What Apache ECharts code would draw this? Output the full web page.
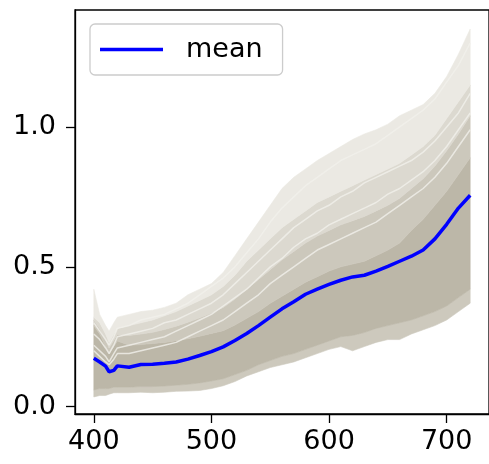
<!DOCTYPE html>
<html>
<head>
<meta charset="utf-8">
<script src="https://cdn.jsdelivr.net/npm/echarts@6/dist/echarts.min.js"></script>
<style>html,body{margin:0;padding:0;background:#fff}#c{width:489px;height:464px}</style>
</head>
<body>
<div id="c"></div>
<script>
// wavelengths (nm)
const wl = [400,405,410,413,417,420,430,440,450,460,470,480,490,500,510,520,530,540,550,560,570,580,590,600,610,620,630,640,650,660,670,680,690,700,710,720];
// mean spectrum
const meanVals = [0.173,0.160,0.145,0.125,0.130,0.146,0.141,0.151,0.152,0.155,0.160,0.170,0.183,0.197,0.214,0.237,0.262,0.290,0.320,0.350,0.375,0.402,0.420,0.437,0.452,0.464,0.470,0.485,0.502,0.520,0.538,0.560,0.600,0.652,0.710,0.756];
// envelope of all spectra (min / max) and density levels
const minVals = [0.035,0.040,0.040,0.045,0.050,0.050,0.050,0.052,0.050,0.052,0.055,0.056,0.058,0.065,0.075,0.090,0.110,0.125,0.140,0.150,0.160,0.175,0.190,0.205,0.215,0.200,0.215,0.230,0.240,0.240,0.260,0.275,0.290,0.310,0.340,0.370];
const lowCore = [0.060,0.065,0.065,0.065,0.070,0.070,0.070,0.072,0.072,0.074,0.077,0.080,0.085,0.092,0.100,0.115,0.130,0.150,0.165,0.180,0.190,0.205,0.220,0.235,0.250,0.255,0.265,0.280,0.290,0.300,0.310,0.325,0.340,0.360,0.390,0.420];
const highCore = [0.290,0.260,0.215,0.190,0.215,0.235,0.220,0.222,0.226,0.230,0.236,0.243,0.252,0.262,0.272,0.292,0.316,0.340,0.370,0.395,0.420,0.445,0.465,0.485,0.500,0.510,0.520,0.540,0.560,0.585,0.630,0.670,0.720,0.770,0.830,0.890];
const upperCore = [0.310,0.280,0.240,0.210,0.238,0.258,0.255,0.260,0.266,0.276,0.288,0.302,0.318,0.335,0.355,0.385,0.420,0.455,0.490,0.525,0.555,0.585,0.610,0.630,0.650,0.665,0.680,0.700,0.720,0.745,0.780,0.815,0.860,0.915,0.975,1.040];
const midUpper = [0.320,0.300,0.260,0.230,0.260,0.280,0.290,0.300,0.310,0.325,0.340,0.360,0.380,0.400,0.430,0.470,0.520,0.560,0.600,0.640,0.670,0.700,0.730,0.750,0.770,0.790,0.810,0.830,0.850,0.870,0.900,0.930,0.970,1.030,1.090,1.150];
const maxVals = [0.420,0.330,0.290,0.270,0.300,0.320,0.330,0.340,0.345,0.355,0.370,0.400,0.420,0.440,0.480,0.540,0.600,0.660,0.720,0.780,0.820,0.850,0.880,0.905,0.930,0.955,0.975,0.990,1.010,1.040,1.060,1.080,1.120,1.180,1.260,1.350];
// a few individual spectra in the sparse upper part
const specA = [0.300,0.270,0.240,0.220,0.250,0.280,0.290,0.310,0.320,0.330,0.350,0.370,0.400,0.430,0.460,0.500,0.550,0.600,0.660,0.710,0.750,0.790,0.820,0.850,0.880,0.900,0.920,0.940,0.970,1.000,1.030,1.060,1.100,1.160,1.220,1.300];
const specB = [0.260,0.240,0.210,0.190,0.220,0.250,0.260,0.270,0.280,0.300,0.310,0.330,0.350,0.370,0.400,0.440,0.480,0.520,0.560,0.600,0.640,0.670,0.700,0.720,0.750,0.770,0.800,0.820,0.840,0.860,0.880,0.910,0.950,1.000,1.050,1.120];
const specC = [0.220,0.200,0.180,0.160,0.190,0.210,0.220,0.230,0.240,0.250,0.270,0.290,0.310,0.330,0.360,0.390,0.420,0.460,0.500,0.530,0.570,0.600,0.620,0.650,0.670,0.690,0.710,0.730,0.760,0.780,0.810,0.840,0.880,0.930,0.990,1.050];
const specD = [0.200,0.180,0.160,0.150,0.170,0.190,0.190,0.200,0.210,0.220,0.230,0.250,0.270,0.290,0.310,0.340,0.370,0.400,0.440,0.470,0.500,0.530,0.560,0.580,0.600,0.620,0.640,0.660,0.690,0.720,0.750,0.780,0.820,0.870,0.930,0.990];
// tick labels
const xTicks = [400,500,600,700];
const yTicks = [0,0.5,1.0];

const pairs = arr => wl.map((x,i)=>[x,arr[i]]);
const levels = [minVals, lowCore, highCore, upperCore, midUpper, maxVals];
const bandColors = ['#cdc9bd', '#bcb7a8', '#ccc8bc', '#dcd9d0', '#ebe9e3'];

const bandSeries = {
  name:'bands', type:'custom', silent:true, z:1,
  data: bandColors.map((c,k)=>[k]),
  renderItem: (params, api) => {
    const k = api.value(0);
    const lower = levels[k], upper = levels[k+1];
    const pts = [];
    wl.forEach((x,i)=>pts.push(api.coord([x, upper[i]])));
    for (let i = wl.length-1; i >= 0; i--) pts.push(api.coord([wl[i], lower[i]]));
    return {type:'polygon', shape:{points:pts},
            style:{fill:bandColors[k], stroke:bandColors[k], lineWidth:0.6}};
  }
};
const traceSeries = [specA, specB, specC, specD].map((arr,k)=>({
  name:'spec'+k, type:'line', data:pairs(arr), symbol:'none', silent:true,
  lineStyle:{color:'#f1f0eb', width:1.5, opacity:0.8}, z:2
}));

const chart = echarts.init(document.getElementById('c'), null, {renderer:'canvas'});
chart.setOption({
  animation:false,
  grid:{left:75, top:10, width:417, height:404, show:true, borderColor:'#000', borderWidth:1.3, backgroundColor:'transparent', z:10},
  legend:{
    data:['mean'], left:90, top:24, orient:'horizontal',
    icon:'rect', itemWidth:63, itemHeight:3.5,
    padding:[12,20,12,10],
    backgroundColor:'rgba(255,255,255,0.8)', borderColor:'#cccccc', borderWidth:1.3, borderRadius:5,
    textStyle:{fontFamily:'DejaVu Sans', fontSize:27, color:'#000', padding:[0,0,0,18]},
    z:20
  },
  xAxis:{
    type:'value', min:384, max:736, z:10,
    axisLine:{show:true, onZero:false, lineStyle:{color:'#000', width:1.3}},
    axisTick:{show:true, length:9, lineStyle:{color:'#000', width:1.3}, customValues:xTicks},
    axisLabel:{fontFamily:'DejaVu Sans', fontSize:27, color:'#000', margin:14, customValues:xTicks, formatter:v=>String(v)},
    splitLine:{show:false}
  },
  yAxis:{
    type:'value', min:-0.026, max:1.418, z:10,
    axisLine:{show:true, onZero:false, lineStyle:{color:'#000', width:1.3}},
    axisTick:{show:true, length:9, lineStyle:{color:'#000', width:1.3}, customValues:yTicks},
    axisLabel:{fontFamily:'DejaVu Sans', fontSize:27, color:'#000', margin:19, customValues:yTicks, formatter:v=>v.toFixed(1)},
    splitLine:{show:false}
  },
  series: [bandSeries].concat(traceSeries, [
    {name:'mean', type:'line', data:pairs(meanVals), symbol:'none', color:'#0000ff',
     lineStyle:{color:'#0000ff', width:3.5}, z:5}
  ])
});
</script>
</body>
</html>
